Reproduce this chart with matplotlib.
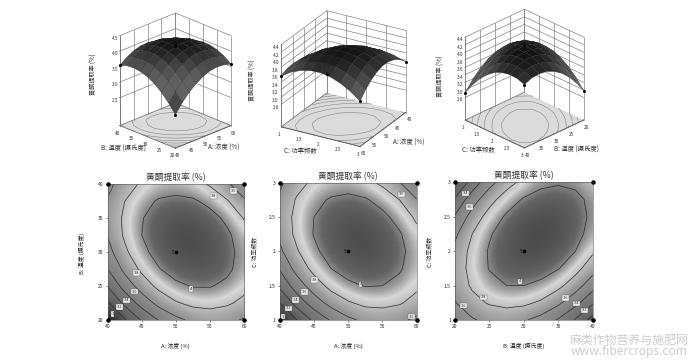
import numpy as np
import matplotlib
matplotlib.use('Agg')
import matplotlib.pyplot as plt
from matplotlib.colors import LinearSegmentedColormap, Normalize

plt.rcParams['font.family'] = ['Noto Sans CJK SC', 'DejaVu Sans']

# A: 浓度 40-60, B: 温度 20-40, C: 功率频数 1-3
conc = [40, 42.5, 45, 47.5, 50, 52.5, 55, 57.5, 60]
temp = [20, 22.5, 25, 27.5, 30, 32.5, 35, 37.5, 40]
power = [1, 1.25, 1.5, 1.75, 2, 2.25, 2.5, 2.75, 3]

# rows follow the y factor, columns the x factor
z_ab = [[2.68, 2.98, 3.22, 3.41, 3.55, 3.64, 3.67, 3.65, 3.58],
        [2.97, 3.25, 3.48, 3.66, 3.78, 3.85, 3.87, 3.83, 3.75],
        [3.21, 3.48, 3.69, 3.85, 3.96, 4.01, 4.01, 3.96, 3.86],
        [3.40, 3.65, 3.84, 3.99, 4.08, 4.12, 4.11, 4.04, 3.92],
        [3.53, 3.76, 3.95, 4.07, 4.15, 4.17, 4.15, 4.06, 3.93],
        [3.61, 3.83, 4.00, 4.11, 4.17, 4.18, 4.13, 4.04, 3.89],
        [3.64, 3.84, 3.99, 4.09, 4.14, 4.13, 4.07, 3.96, 3.79],
        [3.62, 3.80, 3.94, 4.02, 4.05, 4.03, 3.95, 3.82, 3.64],
        [3.54, 3.71, 3.83, 3.90, 3.91, 3.87, 3.78, 3.64, 3.44]]
z_ac = [[2.71, 3.00, 3.24, 3.42, 3.56, 3.64, 3.66, 3.64, 3.56],
        [3.00, 3.28, 3.50, 3.67, 3.78, 3.85, 3.86, 3.82, 3.73],
        [3.24, 3.50, 3.70, 3.86, 3.96, 4.01, 4.00, 3.95, 3.84],
        [3.42, 3.67, 3.86, 4.00, 4.08, 4.11, 4.09, 4.02, 3.90],
        [3.56, 3.78, 3.96, 4.08, 4.15, 4.17, 4.13, 4.05, 3.91],
        [3.64, 3.85, 4.01, 4.11, 4.17, 4.17, 4.12, 4.02, 3.86],
        [3.66, 3.86, 4.00, 4.09, 4.13, 4.12, 4.05, 3.93, 3.76],
        [3.64, 3.82, 3.95, 4.02, 4.05, 4.02, 3.93, 3.80, 3.61],
        [3.56, 3.73, 3.84, 3.90, 3.91, 3.86, 3.76, 3.61, 3.41]]
z_bc = [[3.46, 3.58, 3.65, 3.66, 3.62, 3.53, 3.38, 3.18, 2.92],
        [3.59, 3.73, 3.82, 3.86, 3.84, 3.77, 3.64, 3.46, 3.23],
        [3.66, 3.83, 3.94, 4.00, 4.00, 3.95, 3.85, 3.69, 3.48],
        [3.68, 3.87, 4.01, 4.09, 4.11, 4.09, 4.01, 3.87, 3.68],
        [3.65, 3.86, 4.02, 4.12, 4.17, 4.17, 4.11, 4.00, 3.83],
        [3.56, 3.80, 3.98, 4.10, 4.17, 4.19, 4.16, 4.07, 3.92],
        [3.42, 3.68, 3.88, 4.03, 4.12, 4.16, 4.15, 4.08, 3.96],
        [3.23, 3.51, 3.73, 3.90, 4.02, 4.08, 4.09, 4.05, 3.95],
        [2.98, 3.28, 3.53, 3.72, 3.86, 3.95, 3.98, 3.96, 3.88]]

levels = [2.8, 3, 3.2, 3.4, 3.6, 3.8, 4]
ticks_conc = [40, 45, 50, 55, 60]
ticks_temp = [20, 25, 30, 35, 40]
ticks_power = [1, 1.5, 2, 2.5, 3]
ticks_power_lbl = ['1', '1.5', '2', '2.5', '3']
zticks_ab = [2.5, 3, 3.5, 4, 4.5]
zticks_other = [2.8, 3, 3.2, 3.4, 3.6, 3.8, 4, 4.2, 4.4]

labels_ab = [(58.4, 39, '3.6'), (55.5, 38.3, '3.8'), (44.2, 26.9, '3.8'), (43.9, 24.2, '3.6'),
             (42.7, 22.9, '3.4'), (41.7, 21.9, '3.2'), (40.7, 20.9, '3'), (52.2, 24.6, '4')]
labels_ac = [(57.8, 2.83, '3.6'), (59.3, 1.05, '3.6'), (45.1, 1.58, '3.8'), (43.6, 1.41, '3.6'),
             (42.3, 1.29, '3.4'), (41.3, 1.17, '3.2'), (40.5, 1.05, '3'), (51.8, 1.52, '4')]
labels_bc = [(21.55, 2.84, '3.4'), (22.1, 2.64, '3.6'), (21.3, 1.21, '3.6'), (24.1, 1.33, '3.8'),
             (29.4, 1.56, '4'), (36, 1.32, '3.6'), (37.7, 1.24, '3.4'), (38.8, 1.14, '3.2')]

title = '黄酮提取率 (%)'
name_a = 'A: 浓度 (%)'
name_b = 'B: 温度 (摄氏度)'
name_c = 'C: 功率频数'

W, H = 693, 364

# dark centre, bright ring just inside the 3.8 line, black at the low corner
g = lambda v: (v / 255, v / 255, v / 255)
znorm = Normalize(2.65, 4.2)
stops = [(2.65, 10), (2.85, 60), (3.1, 100), (3.4, 125), (3.65, 150), (3.8, 190),
         (3.88, 215), (3.96, 155), (4.05, 100), (4.2, 72)]
flat_cmap = LinearSegmentedColormap.from_list('flat', [(float(znorm(a)), g(b)) for a, b in stops])
surf_stops = [(2.65, 35), (2.9, 65), (3.3, 105), (3.6, 90), (3.85, 65), (4.0, 40), (4.2, 15)]
surf_cmap = LinearSegmentedColormap.from_list('surf', [(float(znorm(a)), g(b)) for a, b in surf_stops])

fig = plt.figure(figsize=(W / 100, H / 100), dpi=100)


def axes_px(left, top, right, bottom, **kw):
    return fig.add_axes([left / W, 1 - bottom / H, (right - left) / W, (bottom - top) / H], **kw)


def fig_text(x, y, s, **kw):
    fig.text(x / W, 1 - y / H, s, ha='center', va='center', **kw)


def surface(box, zoom, elev, zaspect, xs, ys, table, azim, zticks, zfloor, ztop, xt, yt, xl=None, yl=None):
    ax = axes_px(*box, projection='3d')
    ax.set_proj_type('ortho')
    ax.view_init(elev=elev, azim=azim)
    ax.set_box_aspect((1, 1, zaspect), zoom=zoom)
    ax.patch.set_alpha(0)
    X, Y = np.meshgrid(xs, ys)
    Z = np.array(table)
    ax.set_xlim(min(xs), max(xs))
    ax.set_ylim(min(ys), max(ys))
    ax.set_zlim(zfloor, ztop)
    ax.grid(False)
    ax.xaxis.set_pane_color((1, 1, 1, 0))
    ax.yaxis.set_pane_color((1, 1, 1, 0))
    ax.zaxis.set_pane_color((0.86, 0.86, 0.86, 1))
    for a in (ax.xaxis, ax.yaxis, ax.zaxis):
        a.pane.set_edgecolor('#666666')
        a.pane.set_linewidth(0.5)
        a.line.set_linewidth(0.5)
        a.line.set_color('#555555')
        a._axinfo['tick']['linewidth'] = {True: 0.4, False: 0.3}
        a._axinfo['tick']['inward_factor'] = 0
        a._axinfo['tick']['outward_factor'] = 0.1
    # wall grid, only on the two back walls
    back_x = max(xs) if azim < 0 else min(xs)
    back_y = max(ys) if azim < 0 else min(ys)
    wall = dict(color='#777777', lw=0.45, zorder=0)
    for v in xt:
        ax.plot([v, v], [back_y, back_y], [zfloor, ztop], **wall)
    for v in yt:
        ax.plot([back_x, back_x], [v, v], [zfloor, ztop], **wall)
    for v in zticks:
        ax.plot([min(xs), max(xs)], [back_y, back_y], [v, v], **wall)
        ax.plot([back_x, back_x], [min(ys), max(ys)], [v, v], **wall)
    ax.contour(X, Y, Z, levels=levels, zdir='z', offset=zfloor, colors='#777777', linewidths=0.35)
    ax.plot_surface(X, Y, Z, rstride=1, cstride=1, cmap=surf_cmap, norm=znorm, shade=False,
                    edgecolor='#222222', linewidth=0.2, antialiased=True)
    ax.scatter(X[[0, 0, -1, -1], [0, -1, 0, -1]], Y[[0, 0, -1, -1], [0, -1, 0, -1]],
               Z[[0, 0, -1, -1], [0, -1, 0, -1]], s=1.5, c='k', depthshade=False)
    ax.scatter([xs[4]], [ys[4]], [Z[4, 4] + 0.03], s=1.5, c='k', depthshade=False)
    ax.set_xticks(xt)
    ax.set_yticks(yt)
    ax.set_zticks(zticks)
    if xl:
        ax.set_xticklabels(xl)
    if yl:
        ax.set_yticklabels(yl)
    ax.tick_params(axis='both', labelsize=3.4, pad=-5, colors='#333333')
    return ax


def flat(box, xs, ys, table, xt, yt, tags, yl=None, xname='', yname='', ylabel_x=0, xlabel_y=346):
    ax = axes_px(*box)
    Z = np.array(table)
    dx = (xs[1] - xs[0]) / 2
    dy = (ys[1] - ys[0]) / 2
    ax.imshow(Z, origin='lower', aspect='auto', cmap=flat_cmap, norm=znorm, interpolation='bicubic',
              extent=[xs[0] - dx, xs[-1] + dx, ys[0] - dy, ys[-1] + dy])
    ax.contour(xs, ys, Z, levels=levels, colors='#2a2a2a', linewidths=0.5)
    ax.set_xlim(xs[0], xs[-1])
    ax.set_ylim(ys[0], ys[-1])
    ax.set_xticks(xt)
    ax.set_yticks(yt)
    if yl:
        ax.set_yticklabels(yl)
    ax.tick_params(labelsize=3.6, length=1.5, width=0.4, pad=1.5, colors='#222222')
    for sp in ax.spines.values():
        sp.set_linewidth(0.4)
        sp.set_color('#555555')
    for x, y, s in tags:
        ax.text(x, y, s, fontsize=2.8, ha='center', va='center', color='#222222',
                bbox=dict(boxstyle='square,pad=0.2', fc='#eeeeee', ec='#555555', lw=0.25))
    corners_x = [xs[0], xs[0], xs[-1], xs[-1]]
    corners_y = [ys[0], ys[-1], ys[0], ys[-1]]
    ax.scatter(corners_x, corners_y, s=5, c='k', clip_on=False, zorder=5)
    ax.scatter([xs[4]], [ys[4]], s=2.5, c='k', zorder=5)
    ax.annotate('5', (xs[4], ys[4]), xytext=(-1.2, 0), textcoords='offset points', fontsize=3.4,
                ha='right', va='center', color='#111111')
    cx = (box[0] + box[2]) / 2
    fig_text(cx, box[1] - 6.5, title, fontsize=6.3, color='#333333', fontweight='medium')
    fig_text(cx, xlabel_y, xname, fontsize=4.2, color='#222222')
    fig_text(ylabel_x, (box[1] + box[3]) / 2 + 1, yname, fontsize=4.2, color='#222222', rotation=90)
    return ax


surface((83, -6, 263, 172), 0.81, 24, 1.25, conc, temp, z_ab, -135, zticks_ab, 1.6, 4.5, ticks_conc, ticks_temp)
fig_text(94, 74, '黄酮提取率 (%)', fontsize=4.4, rotation=90, color='#333333')
fig_text(123, 149, name_b, fontsize=4.6, color='#333333')
fig_text(224, 148, name_a, fontsize=4.6, color='#333333')

surface((251, -8, 431, 170), 0.86, 25.5, 1.0, conc, power, z_ac, 30, zticks_other, 2.2, 4.4, ticks_conc, ticks_power, yl=ticks_power_lbl)
fig_text(253, 80, '黄酮提取率 (%)', fontsize=4.4, rotation=90, color='#333333')
fig_text(300, 151, name_c, fontsize=4.6, color='#333333')
fig_text(409, 143, name_a, fontsize=4.6, color='#333333')

surface((432, -8, 612, 170), 0.825, 28, 1.12, temp, power, z_bc, 45, zticks_other, 2.2, 4.4, ticks_temp, ticks_power, yl=ticks_power_lbl)
fig_text(441, 76, '黄酮提取率 (%)', fontsize=4.4, rotation=90, color='#333333')
fig_text(478, 150, name_c, fontsize=4.6, color='#333333')
fig_text(577, 150, name_b, fontsize=4.6, color='#333333')

flat((107.7, 184.3, 244, 320), conc, temp, z_ab, ticks_conc, ticks_temp, labels_ab,
     xname=name_a, yname='B: 温度 (摄氏度)', ylabel_x=82)
flat((279.7, 182.7, 416.7, 320), conc, power, z_ac, ticks_conc, ticks_power, labels_ac, yl=ticks_power_lbl,
     xname=name_a, yname=name_c, ylabel_x=255)
flat((455, 182.3, 592.7, 320), temp, power, z_bc, ticks_temp, ticks_power, labels_bc, yl=ticks_power_lbl,
     xname=name_b, yname=name_c, ylabel_x=430)

fig_text(629, 340, '麻类作物营养与施肥网', fontsize=8.6, color='#cccccc')
fig_text(629, 352, 'www.fibercrops.com', fontsize=8.6, color='#cccccc')

fig.savefig('out.png', dpi=100)
